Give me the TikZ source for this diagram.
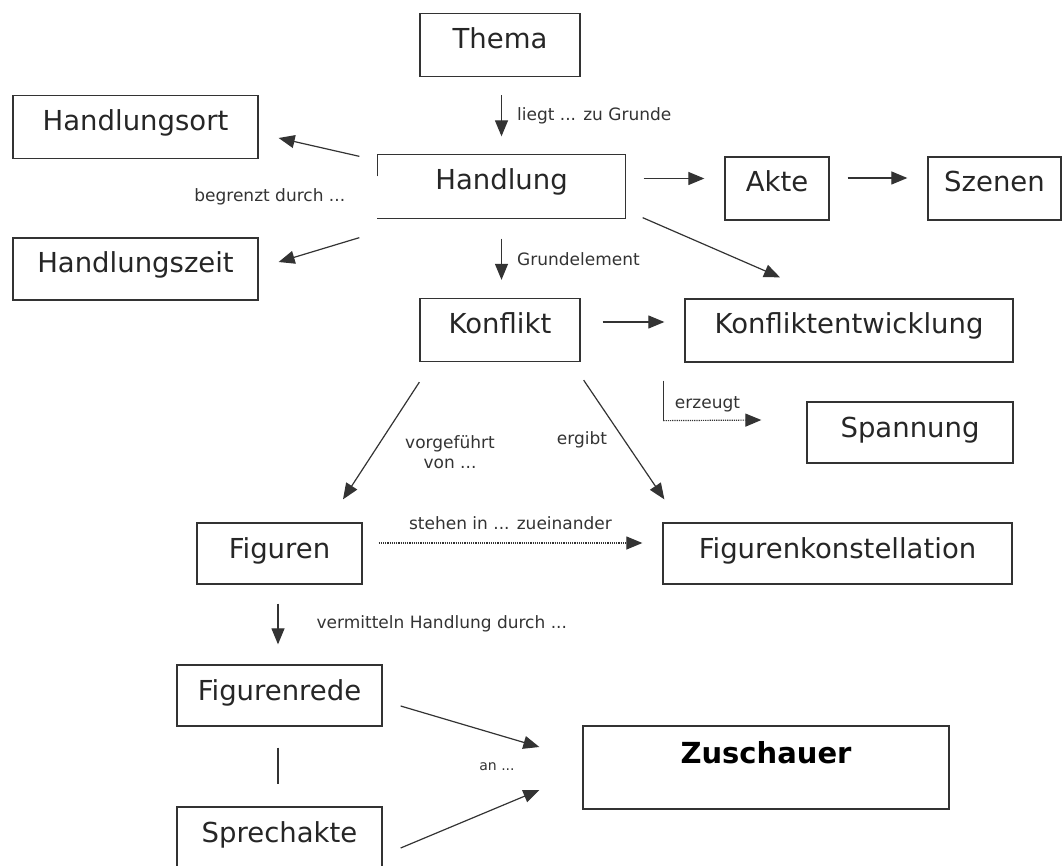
\documentclass[tikz,border=0pt]{standalone}
\usepackage{fontspec}
\setmainfont{DejaVu Sans}
\usetikzlibrary{arrows.meta}

\tikzset{
    box/.style={rectangle, draw=black!80, line width=1.3pt, inner xsep=0pt, inner ysep=0pt,
        text height=35pt, text depth=28pt, font=\fontsize{27.5}{30}\selectfont, text=black!85},
    lbl/.style={inner sep=1pt, font=\fontsize{17}{20}\selectfont, text=black!80, align=center},
    arr/.style={-{Triangle[length=16pt,width=13pt]}, line width=1.2pt, draw=black!80},
}

\begin{document}
\begin{tikzpicture}[x=1pt, y=-1pt]
    \useasboundingbox (0,0) rectangle (1062,866);

    % boxes
    \node [box, minimum width=160pt] (thema) at (500,45) {Thema};
    \node [box, minimum width=247pt, draw=none] (handlung) at (501.5,186.5) {Handlung};
    \draw [black!80, line width=1.3pt] ([yshift=-22pt]handlung.north west) -- (handlung.north west)
        -- (handlung.north east) -- (handlung.south east) -- (handlung.south west);
    \node [box, minimum width=245pt] (ort) at (135.5,127) {Handlungsort};
    \node [box, minimum width=245pt, text depth=27pt] (zeit) at (135.5,269) {Handlungszeit};
    \node [box, minimum width=104pt] (akte) at (777,188.5) {Akte};
    \node [box, minimum width=133pt] (szenen) at (994.5,188.5) {Szenen};
    \node [box, minimum width=160pt] (konflikt) at (500,330) {Konflikt};
    \node [box, minimum width=328pt] (entw) at (849,330.5) {Konfliktentwicklung};
    \node [box, minimum width=206pt, text depth=26pt] (spannung) at (910,432.5) {Spannung};
    \node [box, minimum width=165pt, text depth=26pt] (figuren) at (279.5,553.5) {Figuren};
    \node [box, minimum width=349pt, text depth=26pt] (konst) at (837.5,553.5) {Figurenkonstellation};
    \node [box, minimum width=205pt, text depth=26pt] (rede) at (279.5,695.5) {Figurenrede};
    \node [box, minimum width=205pt] (sprech) at (279.5,838.5) {Sprechakte};
    \node [box, minimum width=366pt, text height=37pt, text depth=46pt,
        font=\fontsize{29}{32}\selectfont\bfseries, text=black] (zuschauer) at (766,767.5) {Zuschauer};

    % connectors
    \draw [arr] ([xshift=1.5pt,yshift=-18pt]thema.south) -- ([yshift=18pt]handlung.north)
        node [lbl, midway, anchor=west, xshift=14pt] (liegt) {liegt ... zu Grunde};
    \draw [arr] ([xshift=18pt,yshift=8pt]handlung.east) -- ([xshift=-20pt,yshift=10pt]akte.west);
    \draw [arr] ([xshift=18pt,yshift=10.5pt]akte.east) -- ([xshift=-20pt,yshift=10.5pt]szenen.west);
    \draw [arr] ([xshift=-18pt,yshift=-2pt]handlung.north west) -- ([xshift=20pt,yshift=-11pt]ort.east);
    \draw [arr] ([xshift=-18pt,yshift=-19pt]handlung.south west) -- ([xshift=20pt,yshift=7pt]zeit.east);
    \node [lbl, anchor=east] (begrenzt) at ([xshift=-31pt,yshift=-10pt]handlung.west) {begrenzt durch ...};
    \draw [arr] ([yshift=-20pt]handlung.south) -- ([xshift=1.5pt,yshift=18pt]konflikt.north)
        node [lbl, midway, anchor=west, xshift=14pt] (grund) {Grundelement};
    \draw [arr] ([xshift=17pt,yshift=1pt]handlung.south east) -- ([xshift=-69pt,yshift=21pt]entw.north);
    \draw [arr] ([xshift=22pt,yshift=8pt]konflikt.east) -- ([xshift=-20pt,yshift=8.5pt]entw.west);
    \draw [black!80, line width=1.2pt] ([xshift=-21pt,yshift=-18pt]entw.south west) -- ([xshift=-21pt,yshift=-58pt]entw.south west);
    \draw [arr, densely dotted] ([xshift=-21pt,yshift=-58pt]entw.south west) -- ([xshift=-45pt,yshift=12.5pt]spannung.west)
        node [lbl, pos=0.45, above=7pt] (erzeugt) {erzeugt};
    \draw [arr] ([yshift=-20pt]konflikt.south west) -- ([xshift=63.5pt,yshift=23pt]figuren.north);
    \draw [arr] ([xshift=3pt,yshift=-18pt]konflikt.south east) -- ([xshift=2pt,yshift=23pt]konst.north west);
    \node [lbl] (vorgef) at (450,452) {vorgeführt\\von ...};
    \node [lbl] (ergibt) at (582,440) {ergibt};
    \draw [arr, densely dotted] ([xshift=16pt,yshift=10.5pt]figuren.east) -- ([xshift=-20pt,yshift=10.5pt]konst.west)
        node [lbl, midway, above=12pt] (stehen) {stehen in ... zueinander};
    \draw [arr] ([xshift=-1.5pt,yshift=-19pt]figuren.south) -- ([xshift=-1.5pt,yshift=20pt]rede.north)
        node [lbl, midway, anchor=west, xshift=37pt] (vermitteln) {vermitteln Handlung durch ...};
    \draw [black!80, line width=1.2pt] ([xshift=-1.5pt,yshift=-21pt]rede.south) -- ([xshift=-1.5pt,yshift=22pt]sprech.north);
    \draw [arr] ([xshift=18pt,yshift=-10.5pt]rede.east) -- ([xshift=-43pt,yshift=20.5pt]zuschauer.west);
    \draw [arr] ([xshift=18pt,yshift=-9.5pt]sprech.east) -- ([xshift=-43pt,yshift=-22.5pt]zuschauer.west);
    \node [lbl, font=\fontsize{14}{16}\selectfont] (an) at (497,767) {an ...};
\end{tikzpicture}
\end{document}
